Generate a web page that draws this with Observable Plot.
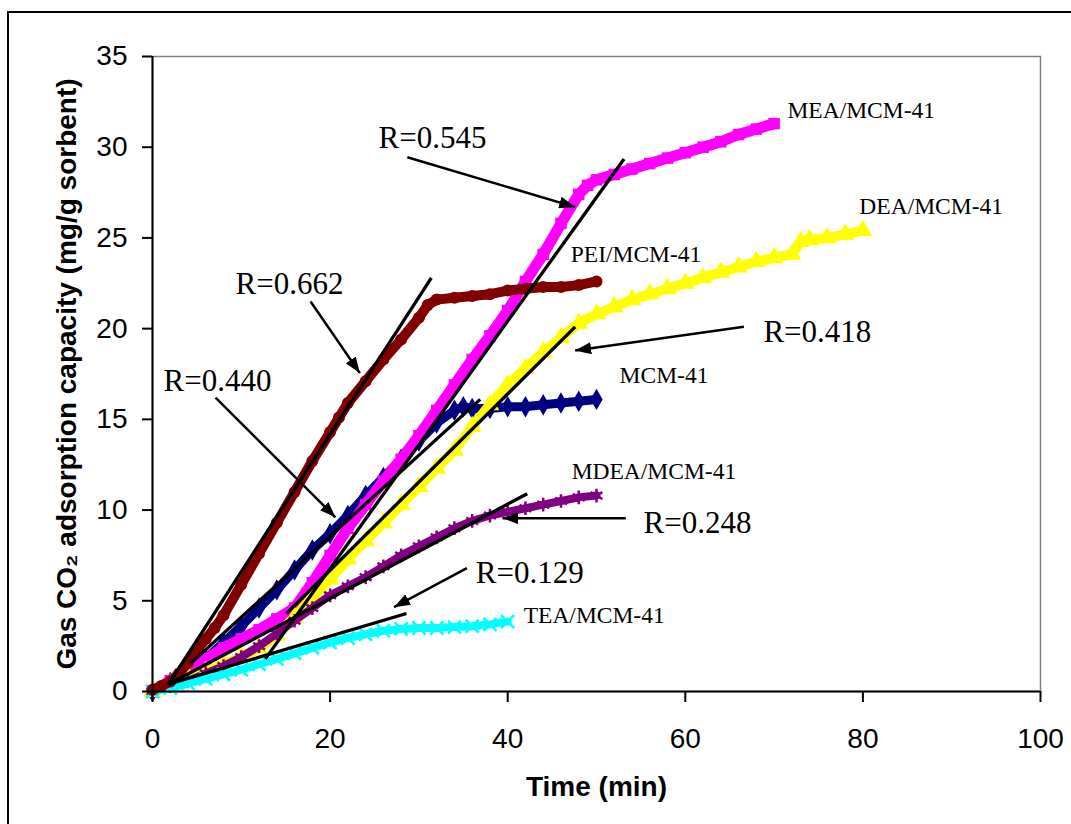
<!DOCTYPE html>
<html><head><meta charset="utf-8">
<script src="https://cdn.jsdelivr.net/npm/d3@7"></script>
<script src="https://cdn.jsdelivr.net/npm/@observablehq/plot@0.6"></script>
<style>
html,body{margin:0;padding:0;background:#fff;overflow:hidden;width:1071px;height:824px}
#wrap{position:relative;width:1071px;height:824px;overflow:hidden}
#border{position:absolute;left:7px;top:11px;width:1200px;height:1000px;border:2px solid #000;pointer-events:none}
</style></head><body><div id="wrap"><div id="chart"></div><div id="border"></div></div>
<script>
// ---- axis ticks ----
const xTicks = [0, 20, 40, 60, 80, 100];
const yTicks = [0, 5, 10, 15, 20, 25, 30, 35];

// ---- series data (time in min, CO2 capacity in mg/g sorbent) ----
const mcmTime = [0,2,4,6,8,10,12,14,16,18,20,22,24,26,28,30,32,34,35,36,38,40,42,44,46,48,50];
const mcmCap  = [0,0.5,1.1,1.8,2.7,3.6,4.6,5.6,6.7,7.8,8.7,9.7,10.8,11.8,12.8,13.8,14.8,15.5,15.7,15.6,15.6,15.7,15.7,15.8,15.9,16.0,16.1];

const meaTime = [0,2,4,6,8,10,12,14,16,18,20,22,24,26,28,30,32,34,36,38,40,42,44,46,48,49,50,52,54,56,58,60,62,64,66,68,70];
const meaCap  = [0,0.6,1.2,1.8,2.4,2.9,3.4,4.0,4.6,6.0,7.5,9.0,10.3,11.6,12.8,14.1,15.5,16.9,18.3,19.6,21.0,22.6,24.1,25.8,27.4,27.9,28.2,28.5,28.8,29.1,29.4,29.7,30.0,30.3,30.7,31.0,31.3];

const deaTime = [0,2,4,6,8,10,12,14,16,18,20,22,24,26,28,30,32,34,36,38,40,42,44,46,48,50,52,54,56,58,60,62,64,66,68,70,72,73,74,76,78,80];
const deaCap  = [0,0.4,0.8,1.1,1.5,1.9,2.4,3.1,4.1,5.2,6.2,7.3,8.3,9.3,10.3,11.3,12.3,13.3,14.6,15.8,16.9,17.8,18.7,19.5,20.3,20.8,21.2,21.6,21.9,22.2,22.5,22.8,23.1,23.4,23.7,23.9,24.1,24.8,24.9,25.0,25.2,25.4];

const mdeaTime = [0,2,4,6,8,10,12,14,16,18,20,22,24,26,28,30,32,34,36,38,40,42,44,46,48,50];
const mdeaCap  = [0,0.3,0.6,1.0,1.4,1.9,2.5,3.2,3.9,4.6,5.3,5.8,6.3,6.9,7.5,8.0,8.5,9.0,9.4,9.7,9.9,10.1,10.3,10.5,10.7,10.8];

const teaTime = [0,2,4,6,8,10,12,14,16,18,20,22,24,26,28,30,32,34,36,38,40];
const teaCap  = [0,0.2,0.45,0.7,0.95,1.2,1.5,1.8,2.1,2.4,2.7,2.95,3.15,3.35,3.45,3.5,3.5,3.55,3.6,3.7,3.85];

const peiTime = [0,1,2,3,4,5,6,7,8,10,12,14,16,18,20,21,22,24,26,28,30,31,32,34,36,38,40,42,44,46,48,50];
const peiCap  = [0.1,0.3,0.55,1.0,1.6,2.3,2.9,3.5,4.2,5.9,7.6,9.3,11.0,12.7,14.3,15.1,15.9,17.1,18.3,19.4,20.6,21.3,21.6,21.7,21.8,21.9,22.1,22.2,22.3,22.3,22.4,22.6];

// series names and their series-label anchor points (data coords)
const seriesNames  = ["MCM-41", "MEA/MCM-41", "DEA/MCM-41", "MDEA/MCM-41", "TEA/MCM-41", "PEI/MCM-41"];
const seriesLabelX = [52.6, 71.5, 79.6, 47.2, 41.8, 47.1];
const seriesLabelY = [17.0, 31.6, 26.3, 11.7, 3.8, 23.7];

// linear fit segments
const fitNames = ["PEI/MCM-41", "MCM-41", "MEA/MCM-41", "DEA/MCM-41", "MDEA/MCM-41", "TEA/MCM-41"];
const fitX1 = [1.8, 4.3, 12.7, 15.1, 1.8, 1.8];
const fitY1 = [0.4, 1.55, 1.8, 4.3, 0.4, 0.4];
const fitX2 = [31.4, 36.9, 53.1, 47.6, 42.2, 28.6];
const fitY2 = [22.8, 16.1, 29.35, 20.1, 10.9, 4.3];

// R annotations: label text, label anchor, arrow start & end
const rTexts  = ["R=0.662", "R=0.545", "R=0.440", "R=0.418", "R=0.248", "R=0.129"];
const rLabelX = [9.35, 25.45, 1.24, 68.8, 55.3, 36.4];
const rLabelY = [21.9, 29.93, 16.59, 19.24, 8.71, 6.0];
const arrowX1 = [17.8, 28.7, 7.1, 66.6, 53.3, 35.4];
const arrowY1 = [21.5, 29.45, 16.2, 20.1, 9.55, 6.8];
const arrowX2 = [23.35, 47.6, 20.6, 47.6, 39.4, 27.2];
const arrowY2 = [17.55, 26.7, 9.6, 18.8, 9.55, 4.65];

// ---- styles (separate from data) ----
const seriesColors  = ["#000080", "#FF00FF", "#FFFF00", "#800080", "#00FFFF", "#800000"];
const seriesSymbols = ["diamond", "square", "triangle", "asterisk", "times", "circle"];
const seriesStrokeSymbol = [false, false, false, true, true, false];
const seriesLineWidth = [9, 11, 10, 8, 8, 10];
const seriesDotR = [6.5, 6.5, 7, 6.5, 6, 6];

const sans = "'Liberation Sans', Arial, Helvetica, sans-serif";
const serif = "'Liberation Serif', 'Times New Roman', Times, serif";

const seriesData = [
  [mcmTime, mcmCap], [meaTime, meaCap], [deaTime, deaCap],
  [mdeaTime, mdeaCap], [teaTime, teaCap], [peiTime, peiCap]
];

const seriesMarks = [];
seriesData.forEach(([t, c], i) => {
  const rows = t.map((tt, k) => ({series: seriesNames[i], time: tt, cap: c[k]}));
  seriesMarks.push(Plot.line(rows, {x: "time", y: "cap", stroke: seriesColors[i], strokeWidth: seriesLineWidth[i], strokeLinejoin: "round", strokeLinecap: "round"}));
  if (seriesStrokeSymbol[i]) {
    seriesMarks.push(Plot.dot(rows, {x: "time", y: "cap", symbol: seriesSymbols[i], stroke: seriesColors[i], strokeWidth: 2.5, r: seriesDotR[i]}));
  } else {
    seriesMarks.push(Plot.dot(rows, {x: "time", y: "cap", symbol: seriesSymbols[i], fill: seriesColors[i], r: seriesDotR[i]}));
  }
});

const fitRows = fitNames.map((n, i) => ({name: n, x1: fitX1[i], y1: fitY1[i], x2: fitX2[i], y2: fitY2[i]}));
const arrowRows = rTexts.map((t, i) => ({label: t, x1: arrowX1[i], y1: arrowY1[i], x2: arrowX2[i], y2: arrowY2[i]}));
const rLabelRows = rTexts.map((t, i) => ({label: t, x: rLabelX[i], y: rLabelY[i]}));
const seriesLabelRows = seriesNames.map((n, i) => ({label: n, x: seriesLabelX[i], y: seriesLabelY[i]}));

const yTitle = "Gas CO\u2082 adsorption capacity (mg/g sorbent)";
const xTitle = "Time (min)";

const chart = Plot.plot({
  width: 1071,
  height: 824,
  marginLeft: 152,
  marginRight: 31,
  marginTop: 56,
  marginBottom: 133,
  style: {fontFamily: sans, fontSize: "28px", background: "white", color: "black", overflow: "visible"},
  x: {domain: [0, 100]},
  y: {domain: [0, 35]},
  marks: [
    Plot.frame({stroke: "#808080", strokeWidth: 1.5}),
    ...seriesMarks,
    Plot.link(fitRows, {x1: "x1", y1: "y1", x2: "x2", y2: "y2", stroke: "black", strokeWidth: 3.3}),
    Plot.link(arrowRows, {x1: "x1", y1: "y1", x2: "x2", y2: "y2", stroke: "black", strokeWidth: 2.5, markerEnd: "arrow"}),
    Plot.text(seriesLabelRows, {x: "x", y: "y", text: "label", textAnchor: "start", lineAnchor: "bottom", fontFamily: serif, fontSize: 23.5, fill: "black"}),
    Plot.text(rLabelRows, {x: "x", y: "y", text: "label", textAnchor: "start", lineAnchor: "bottom", fontFamily: serif, fontSize: 31, fill: "black"}),
    Plot.ruleY([0], {stroke: "black", strokeWidth: 2}),
    Plot.ruleX([0], {stroke: "black", strokeWidth: 2}),
    Plot.axisX({ticks: xTicks, tickSize: 11, tickPadding: 26, label: null, fontSize: 28, strokeWidth: 2, tickFormat: d => String(d)}),
    Plot.axisY({ticks: yTicks, tickSize: 10, tickPadding: 15, label: null, fontSize: 28, strokeWidth: 2, tickFormat: d => String(d)}),
    Plot.text([xTitle], {text: d => d, frameAnchor: "bottom", dy: 104, lineAnchor: "bottom", textAnchor: "middle", fontWeight: "bold", fontSize: 28, fontFamily: sans}),
    Plot.text([yTitle], {text: d => d, frameAnchor: "left", dx: -85, rotate: -90, textAnchor: "middle", lineAnchor: "middle", fontWeight: "bold", fontSize: 28, fontFamily: sans})
  ]
});

// filled triangular arrowheads
chart.querySelectorAll("marker").forEach(m => {
  m.setAttribute("viewBox", "-16 -6 16 12");
  m.setAttribute("markerUnits", "userSpaceOnUse");
  m.setAttribute("markerWidth", "16");
  m.setAttribute("markerHeight", "12");
  m.setAttribute("refX", "0");
  m.setAttribute("refY", "0");
  m.setAttribute("fill", "black");
  m.setAttribute("stroke", "none");
  while (m.firstChild) m.removeChild(m.firstChild);
  const p = document.createElementNS("http://www.w3.org/2000/svg", "path");
  p.setAttribute("d", "M-16,-6L0,0L-16,6Z");
  m.appendChild(p);
});

document.getElementById("chart").appendChild(chart);
</script></body></html>
